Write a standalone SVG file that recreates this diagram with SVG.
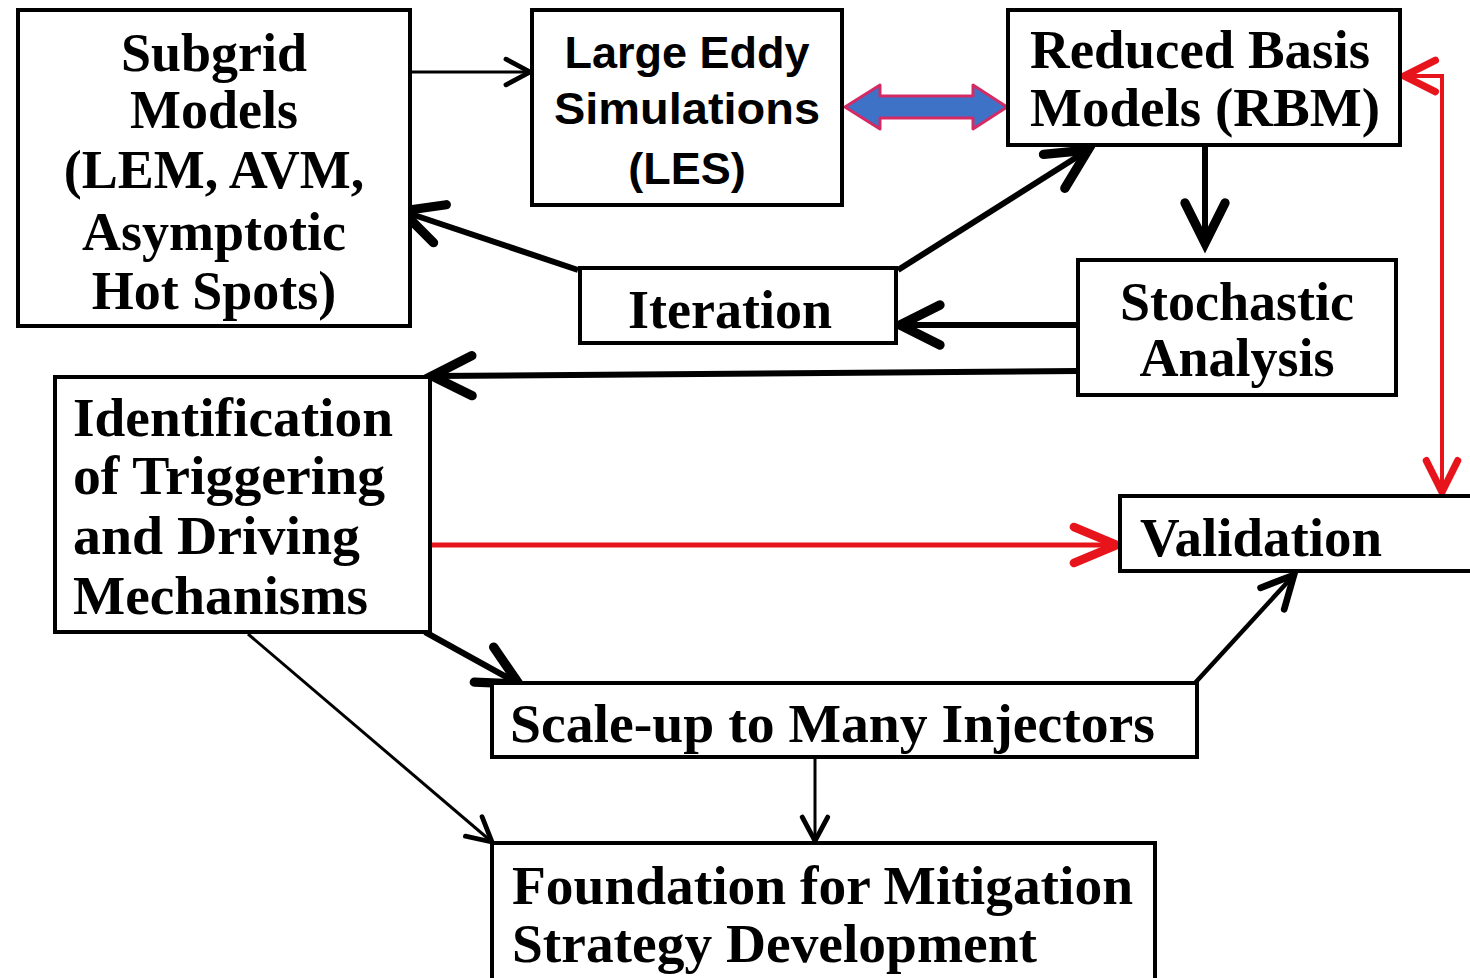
<svg xmlns="http://www.w3.org/2000/svg" width="1470" height="978" viewBox="0 0 1470 978">
<style>
  .box { fill: #fff; stroke: #000; stroke-width: 4; }
  .serif { font-family: "Liberation Serif", "Times New Roman", serif; font-weight: bold; font-size: 54px; fill: #000; }
  .sans { font-family: "Liberation Sans", Arial, sans-serif; font-weight: bold; font-size: 45px; fill: #000; }
  .mid { text-anchor: middle; }
  .thick { stroke: #000; stroke-width: 6; fill: none; }
  .med { stroke: #000; stroke-width: 4.5; fill: none; }
  .thin { stroke: #000; stroke-width: 3; fill: none; }
  .red { stroke: #e8141c; fill: none; }
</style>
<defs>
  <marker id="ahThick" markerUnits="userSpaceOnUse" markerWidth="60" markerHeight="60" viewBox="-40 -20 45 40" refX="0" refY="0" orient="auto" overflow="visible">
    <path d="M -30 -15 L 0 0 L -30 15" fill="none" stroke="#000" stroke-width="7" stroke-linecap="round" stroke-linejoin="miter"/>
  </marker>
  <marker id="ahMed" markerUnits="userSpaceOnUse" markerWidth="60" markerHeight="60" viewBox="-40 -20 45 40" refX="0" refY="0" orient="auto" overflow="visible">
    <path d="M -24 -12 L 0 0 L -24 12" fill="none" stroke="#000" stroke-width="5" stroke-linecap="round"/>
  </marker>
  <marker id="ahThin" markerUnits="userSpaceOnUse" markerWidth="40" markerHeight="40" viewBox="-20 -12 25 24" refX="0" refY="0" orient="auto" overflow="visible">
    <path d="M -15 -8 L 0 0 L -15 8" fill="none" stroke="#000" stroke-width="3" stroke-linecap="round"/>
  </marker>
  <marker id="ahRedBig" markerUnits="userSpaceOnUse" markerWidth="60" markerHeight="60" viewBox="-45 -20 50 40" refX="0" refY="0" orient="auto" overflow="visible">
    <path d="M -36 -15 L 0 0 L -36 15" fill="none" stroke="#e8141c" stroke-width="7" stroke-linecap="round"/>
  </marker>
  <marker id="ahRed" markerUnits="userSpaceOnUse" markerWidth="50" markerHeight="50" viewBox="-30 -15 35 30" refX="0" refY="0" orient="auto" overflow="visible">
    <path d="M -22 -11 L 0 0 L -22 11" fill="none" stroke="#e8141c" stroke-width="5" stroke-linecap="round"/>
  </marker>
  <marker id="ahRedStart" markerUnits="userSpaceOnUse" markerWidth="50" markerHeight="50" viewBox="-30 -15 35 30" refX="0" refY="0" orient="auto-start-reverse" overflow="visible">
    <path d="M -22 -11 L 0 0 L -22 11" fill="none" stroke="#e8141c" stroke-width="5" stroke-linecap="round"/>
  </marker>
</defs>
<rect width="1470" height="978" fill="#fff"/>

<g id="connectors">
  <line class="thin" x1="410" y1="72" x2="530" y2="72" marker-end="url(#ahThin)"/>
  <path d="M 845 107 L 880 85 L 880 96 L 973 96 L 973 85 L 1007 107 L 973 129 L 973 118 L 880 118 L 880 129 Z" fill="#3d72c6" stroke="#d42a66" stroke-width="3" stroke-linejoin="round"/>
  <line class="thick" x1="578" y1="270" x2="402" y2="211" marker-end="url(#ahThick)"/>
  <line class="thick" x1="898" y1="270" x2="1088" y2="150" marker-end="url(#ahThick)"/>
  <line class="thick" x1="1205" y1="145" x2="1205" y2="243" marker-end="url(#ahThick)"/>
  <line class="thick" x1="1078" y1="325" x2="900" y2="325" marker-end="url(#ahThick)"/>
  <line class="thick" x1="1078" y1="371" x2="432" y2="376" marker-end="url(#ahThick)"/>
  <line class="red" stroke-width="5" x1="430" y1="545" x2="1117" y2="545" marker-end="url(#ahRedBig)"/>
  <path class="red" stroke-width="4" d="M 1442 492 L 1442 76 L 1404 76" marker-start="url(#ahRedStart)" marker-end="url(#ahRed)"/>
  <line class="thick" x1="425" y1="632" x2="519" y2="684" marker-end="url(#ahThick)"/>
  <line class="med" x1="1195" y1="683" x2="1294" y2="575" marker-end="url(#ahMed)"/>
  <line class="thin" x1="815" y1="757" x2="815" y2="841" marker-end="url(#ahThin)"/>
  <line class="thin" x1="248" y1="634" x2="492" y2="842" marker-end="url(#ahThin)"/>
</g>

<g id="subgrid">
  <rect class="box" x="18" y="10" width="392" height="316"/>
  <text class="serif mid" x="214" y="71">Subgrid</text>
  <text class="serif mid" x="214" y="128">Models</text>
  <text class="serif mid" x="214" y="188">(LEM, AVM,</text>
  <text class="serif mid" x="214" y="250">Asymptotic</text>
  <text class="serif mid" x="214" y="309">Hot Spots)</text>
</g>

<g id="les">
  <rect class="box" x="532" y="10" width="310" height="195"/>
  <text class="sans mid" x="687" y="68">Large Eddy</text>
  <text class="sans mid" x="687" y="124" textLength="266" lengthAdjust="spacingAndGlyphs">Simulations</text>
  <text class="sans mid" x="687" y="184">(LES)</text>
</g>

<g id="rbm">
  <rect class="box" x="1008" y="10" width="392" height="135"/>
  <text class="serif" x="1030" y="68" textLength="340" lengthAdjust="spacingAndGlyphs">Reduced Basis</text>
  <text class="serif" x="1030" y="126" textLength="350" lengthAdjust="spacingAndGlyphs">Models (RBM)</text>
</g>

<g id="iteration">
  <rect class="box" x="580" y="268" width="316" height="75"/>
  <text class="serif mid" x="730" y="328">Iteration</text>
</g>

<g id="stochastic">
  <rect class="box" x="1078" y="260" width="318" height="135"/>
  <text class="serif mid" x="1237" y="320">Stochastic</text>
  <text class="serif mid" x="1237" y="376">Analysis</text>
</g>

<g id="identification">
  <rect class="box" x="55" y="377" width="375" height="255"/>
  <text class="serif" x="73" y="436" textLength="320" lengthAdjust="spacingAndGlyphs">Identification</text>
  <text class="serif" x="73" y="494" textLength="312" lengthAdjust="spacingAndGlyphs">of Triggering</text>
  <text class="serif" x="73" y="554" textLength="287" lengthAdjust="spacingAndGlyphs">and Driving</text>
  <text class="serif" x="73" y="614" textLength="295" lengthAdjust="spacingAndGlyphs">Mechanisms</text>
</g>

<g id="validation">
  <rect class="box" x="1120" y="496" width="360" height="75"/>
  <text class="serif" x="1140" y="556" textLength="242" lengthAdjust="spacingAndGlyphs">Validation</text>
</g>

<g id="scaleup">
  <rect class="box" x="492" y="683" width="705" height="74"/>
  <text class="serif" x="510" y="742" textLength="645" lengthAdjust="spacingAndGlyphs">Scale-up to Many Injectors</text>
</g>

<g id="foundation">
  <rect class="box" x="492" y="843" width="663" height="145"/>
  <text class="serif" x="512" y="904" textLength="621" lengthAdjust="spacingAndGlyphs">Foundation for Mitigation</text>
  <text class="serif" x="512" y="962" textLength="525" lengthAdjust="spacingAndGlyphs">Strategy Development</text>
</g>
</svg>
